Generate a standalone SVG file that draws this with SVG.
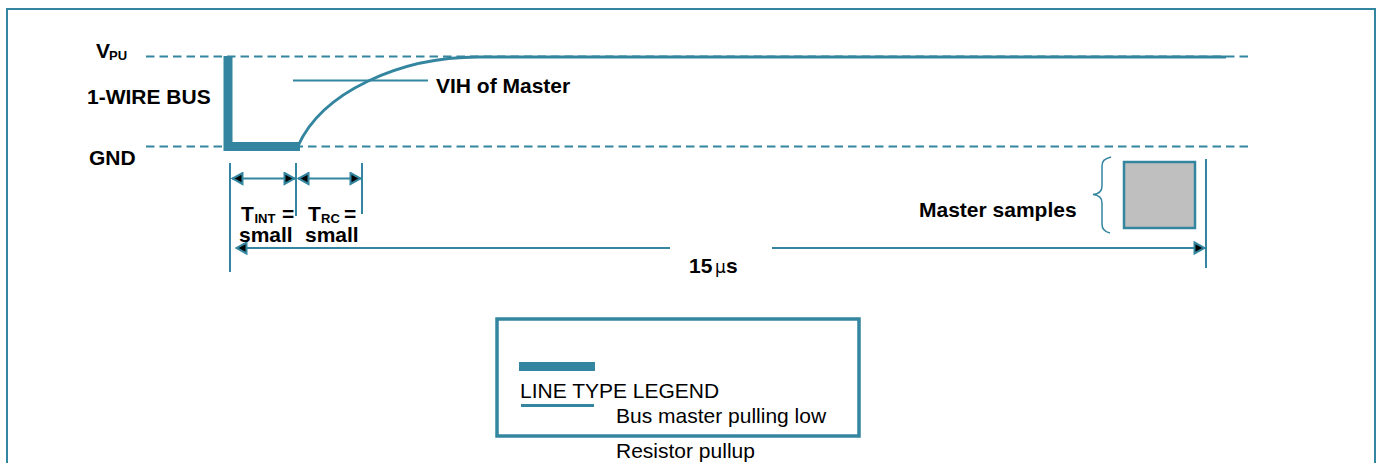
<svg xmlns="http://www.w3.org/2000/svg" width="1376" height="463" viewBox="0 0 1376 463">
<style>
text{font-family:"Liberation Sans",Arial,sans-serif;fill:#000}
.b{font-weight:700;font-size:21px}
.r{font-size:21px}
.s{font-size:13px;font-weight:700}
.t{fill:none;stroke:#34859f;stroke-width:2}
.d{fill:none;stroke:#34859f;stroke-width:2;stroke-dasharray:8.500 5}
</style>
<defs>
<marker id="ah" markerUnits="userSpaceOnUse" markerWidth="13" markerHeight="14" refX="12" refY="7" orient="auto-start-reverse">
<path d="M1.500 1.500L11.500 7L1.500 12.500Z" fill="#000" stroke="#34859f" stroke-width="2"/>
</marker>
</defs>
<rect id="frame" x="7" y="9" width="1368" height="470" fill="#fff" stroke="#34859f" stroke-width="2"/>
<g id="connectors">
<path class="d" d="M146 56.500H1252"/>
<path class="d" d="M146 146.500H1252"/>
<path d="M228 56V146.500H300" fill="none" stroke="#34859f" stroke-width="9"/>
<path d="M298 146C322 92 400 57 478 57H1226" fill="none" stroke="#34859f" stroke-width="3"/>
<path class="t" d="M293 80.500H428"/>
<path class="t" d="M230 163V272M296 163V216M362 163V214M1206 159V268"/>
<path class="t" d="M232 178.500H295" marker-start="url(#ah)" marker-end="url(#ah)"/>
<path class="t" d="M298 178.500H361" marker-start="url(#ah)" marker-end="url(#ah)"/>
<path class="t" d="M236 248H670" marker-start="url(#ah)"/>
<path class="t" d="M772 248H1205" marker-end="url(#ah)"/>
<path d="M1111 157C1104 159 1102 161 1102 166V186C1102 191 1099 194 1093 194.500C1099 195 1102 198 1102 203V224C1102 230 1105 232 1110 233" fill="none" stroke="#34859f" stroke-width="1.500"/>
</g>
<g id="vpu-label"><text class="b" x="96" y="58">V<tspan class="s" x="109" y="60">PU</tspan></text></g>
<g id="bus-label"><text class="b" x="87" y="104">1-WIRE BUS</text></g>
<g id="gnd-label"><text class="b" x="89" y="165">GND</text></g>
<g id="vih-label"><text class="b" x="436" y="92.500">VIH of Master</text></g>
<g id="tint-label"><text class="b" x="241" y="221">T<tspan class="s" x="254.500" y="223">INT</tspan><tspan x="282" y="221">=</tspan></text><text class="b" x="239" y="242">small</text></g>
<g id="trc-label"><text class="b" x="308" y="221">T<tspan class="s" x="321" y="223">RC</tspan><tspan x="344" y="221">=</tspan></text><text class="b" x="305" y="242">small</text></g>
<g id="samples-label"><text class="b" x="919" y="217">Master samples</text></g>
<g id="sample-box"><rect x="1124" y="162" width="71" height="66" fill="#bfbfbf" stroke="#34859f" stroke-width="2.500"/></g>
<g id="duration-label"><text class="b" x="689" y="273">15<tspan font-weight="400" font-family="'DejaVu Sans',sans-serif" font-size="17px" x="715">μ</tspan><tspan x="726">s</tspan></text></g>
<g id="legend">
<rect x="497" y="319" width="362" height="117" fill="#fff" stroke="#34859f" stroke-width="3.500"/>
<rect x="519" y="362" width="76" height="9" fill="#34859f"/>
<rect x="521" y="404" width="73" height="3" fill="#34859f"/>
<text class="r" x="520" y="398">LINE TYPE LEGEND</text>
<text class="r" x="616" y="423">Bus master pulling low</text>
<text class="r" x="616" y="458">Resistor pullup</text>
</g>
</svg>
